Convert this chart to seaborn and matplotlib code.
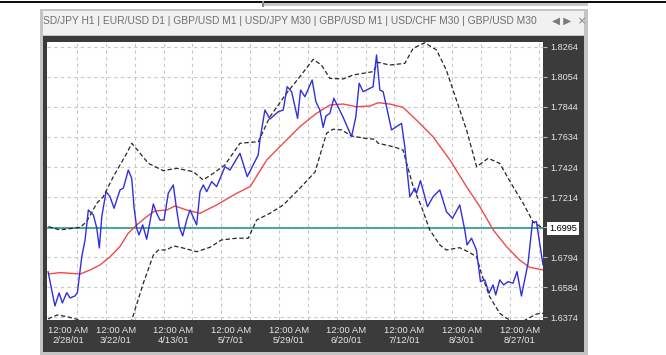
import numpy as np
import pandas as pd
import matplotlib
matplotlib.use('Agg')
import matplotlib.pyplot as plt
import matplotlib.transforms as mtrans
from matplotlib.patches import Rectangle
import seaborn as sns

# GBP/USD daily, bar index -> price (vertices)
close_bar = [0, 1.9, 3.05, 3.96, 5.18, 6.09, 7.48, 8.12, 9.34, 10.25, 11.16, 12.55, 13.49, 14.21,
             14.88, 16.07, 17.17, 18.28, 19.94, 20.86, 22.24, 23.19, 23.82, 24.57, 25.21, 26.23,
             27.34, 29.17, 30.11, 31.02, 32.13, 33.32, 34.71, 35.46, 36.37, 37.31, 38.42, 39.34,
             41.19, 42.11, 43.02, 43.96, 45.35, 46.73, 49.03, 50.42, 53.19, 55.21, 58.25, 58.73,
             60.11, 61.5, 63.8, 65.18, 66.29, 67.51, 69.17, 70.0, 71.19, 73.21, 74.24, 75.35,
             76.26, 77.01, 78.12, 79.22, 80.14, 81.8, 84.13, 85.32, 86.23, 87.34, 90.11, 91.05,
             91.97, 92.88, 93.82, 95.21, 96.59, 97.98, 98.89, 99.45, 100.28, 101.66, 102.13,
             103.24, 105.18, 106.73, 108.59, 110.44, 112.1, 114.13, 115.51, 116.15, 117.37,
             118.75, 119.86, 121.05, 122.24, 123.35, 124.1, 125.21, 126.32, 127.51, 128.89,
             130.0, 131.22, 133.05, 134.27, 135.37, 137.2]
close_px = [1.6694, 1.6454, 1.6545, 1.6475, 1.6547, 1.6510, 1.6524, 1.6547, 1.6798, 1.6915, 1.7124,
            1.7089, 1.6999, 1.6859, 1.7077, 1.7252, 1.7217, 1.7136, 1.7264, 1.7276, 1.7403, 1.7345,
            1.7147, 1.6996, 1.6950, 1.7020, 1.6920, 1.7166, 1.7101, 1.7054, 1.7054, 1.7241, 1.7299,
            1.7159, 1.7008, 1.6943, 1.7054, 1.7124, 1.7020, 1.7252, 1.7299, 1.7252, 1.7322, 1.7287,
            1.7426, 1.7403, 1.7520, 1.7357, 1.7508, 1.7613, 1.7822, 1.7759, 1.7810, 1.7822, 1.7985,
            1.7950, 1.7764, 1.7962, 1.7915, 1.8032, 1.7880, 1.7822, 1.7701, 1.7780, 1.7799, 1.7904,
            1.7857, 1.7771, 1.7636, 1.7775, 1.8009, 1.7950, 1.7985, 1.8206, 1.7962, 1.7950, 1.7845,
            1.7683, 1.7706, 1.7729, 1.7566, 1.7417, 1.7217, 1.7276, 1.7241, 1.7329, 1.7147, 1.7217,
            1.7264, 1.7112, 1.7066, 1.7159, 1.6985, 1.6880, 1.6927, 1.6845, 1.6624, 1.6636, 1.6543,
            1.6601, 1.6531, 1.6636, 1.6601, 1.6624, 1.6613, 1.6694, 1.6524, 1.6752, 1.7036, 1.7043,
            1.6740]

ma_bar = [0.1, 3.3, 8.9, 11.6, 14.4, 17.2, 19.9, 22.2, 24.6, 27.3, 29.6, 32.9, 35.2, 38.4, 42.1,
          46.7, 52.3, 56.0, 60.6, 65.2, 69.8, 74.4, 78.1, 81.8, 85.5, 89.2, 91.5, 94.7, 98.4,
          102.1, 106.7, 111.4, 116.0, 119.7, 123.4, 127.1, 130.7, 133.5, 137.2]
ma_px = [1.6677, 1.6687, 1.6677, 1.6705, 1.6740, 1.6798, 1.6868, 1.6961, 1.7020, 1.7077, 1.7117,
         1.7124, 1.7152, 1.7124, 1.7101, 1.7159, 1.7241, 1.7287, 1.7473, 1.7590, 1.7706, 1.7799,
         1.7857, 1.7864, 1.7845, 1.7850, 1.7873, 1.7864, 1.7841, 1.7752, 1.7636, 1.7473, 1.7287,
         1.7147, 1.6985, 1.6868, 1.6775, 1.6724, 1.6705]

upper_bar = [0.1, 3.3, 8.9, 10.7, 13.5, 15.3, 18.1, 21.8, 23.2, 27.8, 31.9, 35.7, 40.2, 43.0, 45.8,
             49.0, 53.2, 58.3, 61.5, 66.1, 69.8, 73.5, 75.8, 78.1, 81.8, 84.6, 90.1, 91.5, 94.7,
             98.9, 101.2, 104.4, 107.7, 110.4, 113.2, 116.0, 118.8, 122.0, 125.2, 128.9, 131.7,
             134.4, 137.2]
upper_px = [1.7008, 1.6985, 1.7003, 1.7043, 1.7171, 1.7217, 1.7357, 1.7520, 1.7590, 1.7450, 1.7399,
            1.7415, 1.7392, 1.7334, 1.7380, 1.7438, 1.7590, 1.7601, 1.7775, 1.7939, 1.8055, 1.8176,
            1.8136, 1.8043, 1.8039, 1.8067, 1.8090, 1.8155, 1.8136, 1.8148, 1.8253, 1.8292, 1.8241,
            1.8101, 1.7892, 1.7683, 1.7426, 1.7485, 1.7450, 1.7287, 1.7171, 1.7043, 1.6996]

lower_bar = [0, 2.5, 5.3, 8.0, 11.6, 17.2, 23.2, 26.4, 29.2, 30.6, 32.9, 34.7, 36.6, 41.2, 44.9,
             48.1, 52.3, 55.5, 57.8, 61.5, 65.2, 69.8, 74.0, 77.2, 79.0, 81.4, 84.1, 87.8, 90.6,
             91.5, 95.7, 98.4, 99.4, 101.2, 103.5, 105.8, 108.6, 110.4, 114.1, 116.4, 118.8,
             120.1, 122.4, 125.2, 127.1, 130.2, 134.0, 135.4, 137.2]
lower_px = [1.6363, 1.6391, 1.6379, 1.6361, 1.6315, 1.6252, 1.6356, 1.6613, 1.6810, 1.6845, 1.6845,
            1.6873, 1.6864, 1.6833, 1.6864, 1.6915, 1.6927, 1.6927, 1.7054, 1.7101, 1.7159, 1.7276,
            1.7389, 1.7660, 1.7688, 1.7683, 1.7641, 1.7625, 1.7618, 1.7590, 1.7566, 1.7543, 1.7450,
            1.7287, 1.7147, 1.6985, 1.6880, 1.6845, 1.6861, 1.6833, 1.6798, 1.6682, 1.6519, 1.6403,
            1.6368, 1.6328, 1.6379, 1.6398, 1.6403]

level_price = 1.6995
y_ticks = [1.6374, 1.6584, 1.6794, 1.7004, 1.7214, 1.7424, 1.7634, 1.7844, 1.8054, 1.8264]
y_labels = ['1.6374', '1.6584', '1.6794', '', '1.7214', '1.7424', '1.7634', '1.7844', '1.8054', '1.8264']
grid_bars = list(range(8, 137, 8))
label_bars = [8, 24, 40, 56, 72, 88, 104, 120, 136]
label_dates = ['2/28/01', '3/22/01', '4/13/01', '5/7/01', '5/29/01', '6/20/01', '7/12/01', '8/3/01', '8/27/01']
tabs = ['SD/JPY H1', 'EUR/USD D1', 'GBP/USD M1', 'USD/JPY M30', 'GBP/USD M1', 'USD/CHF M30', 'GBP/USD M30']

sns.set_style('white')
plt.rcParams['font.family'] = ['Liberation Sans', 'DejaVu Sans']

W, H = 666, 355
fig = plt.figure(figsize=(W / 100, H / 100), dpi=100)
fig.patch.set_facecolor('white')


def box(x0, y0, x1, y1, col):
    fig.add_artist(Rectangle((x0 / W, 1 - y1 / H), (x1 - x0) / W, (y1 - y0) / H,
                             transform=fig.transFigure, facecolor=col, edgecolor='none', zorder=0))


# window chrome
box(0, 1.3, W, 3.4, '#111111')
box(263, 3.4, 588, 6.2, '#c9c9c9')
box(262, 1.3, 264, 7, '#888888')
box(39.5, 8.5, 588, 355, '#c4c4c4')
box(43, 11, 583.5, 35, '#f1f1f1')
box(43, 36, 583.5, 352, '#3b3b3b')

tab_txt = fig.text(43 / W, 1 - 21 / H, ' | '.join(tabs), ha='left', va='center',
                   color='#6f6f6f', fontsize=8)
fig.canvas.draw()
bb = tab_txt.get_window_extent(fig.canvas.get_renderer())
tab_txt.set_fontsize(8 * 495 / bb.width)
fig.text(552 / W, 1 - 21 / H, '\u25c0 \u25b6  \u00d7', ha='left', va='center',
         color='#7a7a7a', fontsize=7.5, family='DejaVu Sans')

ax = fig.add_axes([47 / W, 1 - 320 / H, 496 / W, 278 / H])
ax.set_facecolor('white')

ax.axhline(level_price, color='#3c9f9a', linewidth=1.3, zorder=2)
sns.lineplot(x=upper_bar, y=upper_px, ax=ax, color='#262626', linewidth=0.9,
             linestyle=(0, (3.5, 2)), estimator=None, sort=False)
sns.lineplot(x=lower_bar, y=lower_px, ax=ax, color='#262626', linewidth=0.9,
             linestyle=(0, (3.5, 2)), estimator=None, sort=False)
sns.lineplot(x=ma_bar, y=ma_px, ax=ax, color='#ef4a4a', linewidth=1.0, estimator=None, sort=False)
sns.lineplot(x=close_bar, y=close_px, ax=ax, color='#3030dc', linewidth=1.0, estimator=None, sort=False)

ax.set_xlim(-0.3, 137.2)
ax.set_ylim(1.6356, 1.8297)
ax.set_xticks(grid_bars)
ax.set_yticks(y_ticks)
ax.set_yticklabels(y_labels)
ax.yaxis.tick_right()
ax.tick_params(axis='x', length=0, labelbottom=False)
ax.tick_params(axis='y', length=3, width=0.8, color='#bdbdbd', labelcolor='#e6e6e6',
               labelsize=6.6, pad=2)
ax.grid(True, color='#c8c8c8', linestyle=(0, (3, 3)), linewidth=0.8)
for s in ax.spines.values():
    s.set_visible(False)
ax.set_xlabel('')
ax.set_ylabel('')

# current price box on the right scale
blend = mtrans.blended_transform_factory(ax.transAxes, ax.transData)
ax.text(1.0125, level_price, f'{level_price:.4f}', transform=blend, ha='left', va='center',
        fontsize=6.6, color='black', clip_on=False,
        bbox=dict(boxstyle='square,pad=0.22', facecolor='white', edgecolor='none'))

# date labels under the chart
xblend = mtrans.blended_transform_factory(ax.transData, ax.transAxes)
for k, (b, d) in enumerate(zip(label_bars, label_dates)):
    if k == 0:
        ax.text(0.05, -0.02, '12:00 AM\n' + d, transform=xblend, ha='left', va='top',
                fontsize=6.8, color='#e6e6e6', multialignment='center', linespacing=1.25)
    else:
        ax.text(b + 0.3, -0.02, '12:00 AM\n' + d, transform=xblend, ha='right', va='top',
                fontsize=6.8, color='#e6e6e6', multialignment='center', linespacing=1.25)

fig.savefig('out.png', dpi=100)
